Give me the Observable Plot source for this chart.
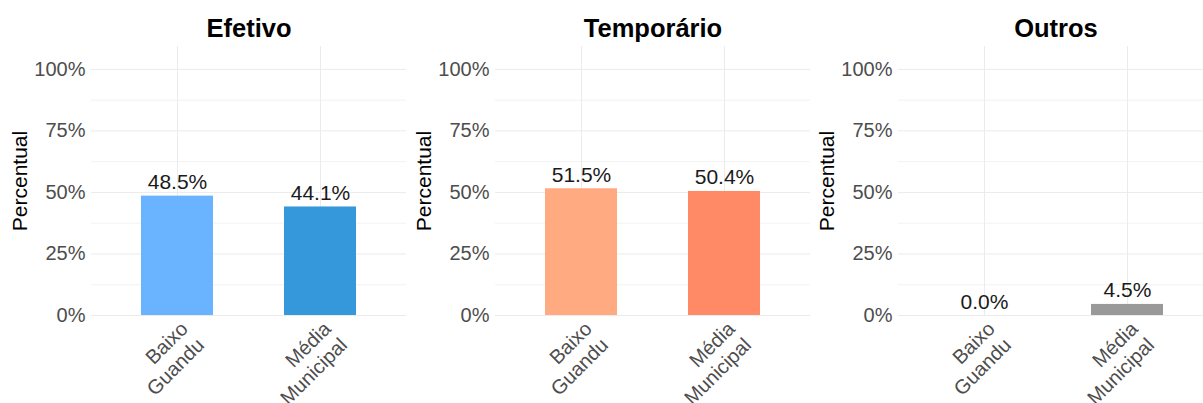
<!DOCTYPE html>
<html><head><meta charset="utf-8">
<script src="https://cdn.jsdelivr.net/npm/d3@7"></script>
<script src="https://cdn.jsdelivr.net/npm/@observablehq/plot@0.6"></script>
<style>
body{margin:0;background:#fff;overflow:hidden;font-family:"Liberation Sans",Arial,sans-serif;}
#wrap{position:relative;width:1203px;height:403px;overflow:hidden;}
.panel{position:absolute;top:0;width:406px;height:403px;}
.panel svg{overflow:visible;max-width:none !important;}
</style></head><body><div id="wrap"></div>
<script>
const panels = ["Efetivo", "Temporário", "Outros"];
const locais = ["Baixo Guandu", "Média Municipal"];
const efetivo = [0.485, 0.441];
const temporario = [0.515, 0.504];
const outros = [0.000, 0.045];
const coresEfetivo = ["#69B3FF", "#3498DB"];
const coresTemporario = ["#FFAA80", "#FF8A65"];
const coresOutros = ["#999999", "#999999"];
const yTicks = [0, 0.25, 0.5, 0.75, 1];
const yMinor = [0.125, 0.375, 0.625, 0.875];
const yLabel = "Percentual";

const series = [efetivo, temporario, outros];
const cores = [coresEfetivo, coresTemporario, coresOutros];
const lefts = [0, 403.5, 807];
const pct0 = d3.format(".0%");
const pct1 = d3.format(".1%");
const wrap = document.getElementById("wrap");

panels.forEach((titulo, i) => {
  const data = locais.map((local, j) => ({local, valor: series[i][j]}));
  const chart = Plot.plot({
    width: 406, height: 403,
    marginLeft: 91, marginRight: 0, marginTop: 46, marginBottom: 88,
    style: {fontFamily: '"Liberation Sans", Arial, sans-serif', background: "transparent", overflow: "visible", maxWidth: "none"},
    x: {domain: locais, paddingInner: 0.5, paddingOuter: 0.35},
    y: {domain: [0, 1.093]},
    color: {domain: locais, range: cores[i]},
    marks: [
      Plot.gridY(yMinor, {stroke: "#f2f2f2", strokeOpacity: 1, strokeWidth: 1}),
      Plot.gridY(yTicks, {stroke: "#ebebeb", strokeOpacity: 1, strokeWidth: 1}),
      Plot.gridX(locais, {stroke: "#ebebeb", strokeOpacity: 1, strokeWidth: 1}),
      Plot.barY(data, {x: "local", y: "valor", fill: "local"}),
      Plot.text(data, {x: "local", y: "valor", text: d => pct1(d.valor), lineAnchor: "bottom", dy: -7, fontSize: 21, fill: "#1a1a1a"}),
      Plot.axisY(yTicks, {tickFormat: pct0, tickSize: 0, tickPadding: 6, fontSize: 20, color: "#4d4d4d", label: null}),
      Plot.axisX({tickFormat: d => d.replace(" ", "\n"), tickRotate: -45, tickSize: 0, tickPadding: 3, textAnchor: "end", lineAnchor: "top", lineHeight: 1.15, fontSize: 20, color: "#4d4d4d", label: null}),
      Plot.text([yLabel], {frameAnchor: "left", textAnchor: "middle", rotate: -90, dx: -79, lineAnchor: "top", fontSize: 21, fill: "black"}),
      Plot.text([titulo], {frameAnchor: "top", dy: -10, lineAnchor: "bottom", fontSize: 25.5, fontWeight: "bold", fill: "black"})
    ]
  });
  const div = document.createElement("div");
  div.className = "panel";
  div.style.left = lefts[i] + "px";
  div.appendChild(chart);
  wrap.appendChild(div);
});
</script></body></html>
